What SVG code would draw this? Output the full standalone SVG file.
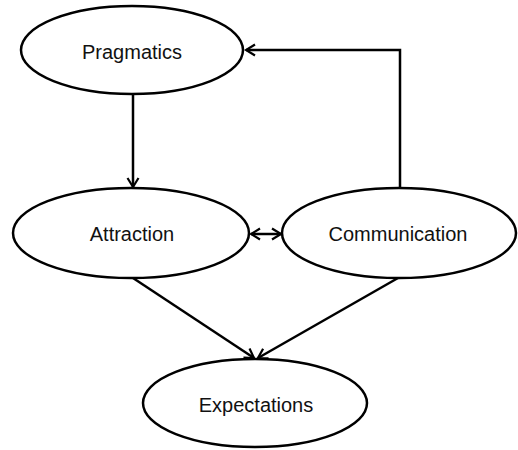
<svg xmlns="http://www.w3.org/2000/svg" width="518" height="450" viewBox="0 0 518 450">
<style>
.node ellipse{fill:#fff;stroke:#000;stroke-width:2.5}
.node text{font-family:"Liberation Sans",Arial,sans-serif;font-size:20px;fill:#111;text-anchor:middle}
.conn path{fill:none;stroke:#000;stroke-width:2.5}
</style>
<defs>
<marker id="ah" markerUnits="userSpaceOnUse" markerWidth="14" markerHeight="14" viewBox="-11 -7 13 14" refX="0" refY="0" orient="auto-start-reverse">
<path d="M-9,-5.5 L0,0 L-9,5.5" fill="none" stroke="#000" stroke-width="2.2"/>
</marker>
</defs>
<rect width="518" height="450" fill="#fff"/>
<g class="conn" id="connectors">
<path d="M133,94 L133,187" marker-end="url(#ah)"/>
<path d="M400,189 L400,50 L246,50" marker-end="url(#ah)"/>
<path d="M251,234 L281,234" marker-start="url(#ah)" marker-end="url(#ah)"/>
<path d="M133,278 L254,358" marker-end="url(#ah)"/>
<path d="M398,278 L258,358" marker-end="url(#ah)"/>
</g>
<g class="node" id="pragmatics"><ellipse cx="132" cy="50" rx="111" ry="44"/><text x="132" y="59">Pragmatics</text></g>
<g class="node" id="attraction"><ellipse cx="131" cy="233" rx="118" ry="45"/><text x="132" y="241">Attraction</text></g>
<g class="node" id="communication"><ellipse cx="399" cy="233" rx="117" ry="45"/><text x="398" y="241">Communication</text></g>
<g class="node" id="expectations"><ellipse cx="255" cy="403" rx="112" ry="44"/><text x="256" y="412">Expectations</text></g>
</svg>
